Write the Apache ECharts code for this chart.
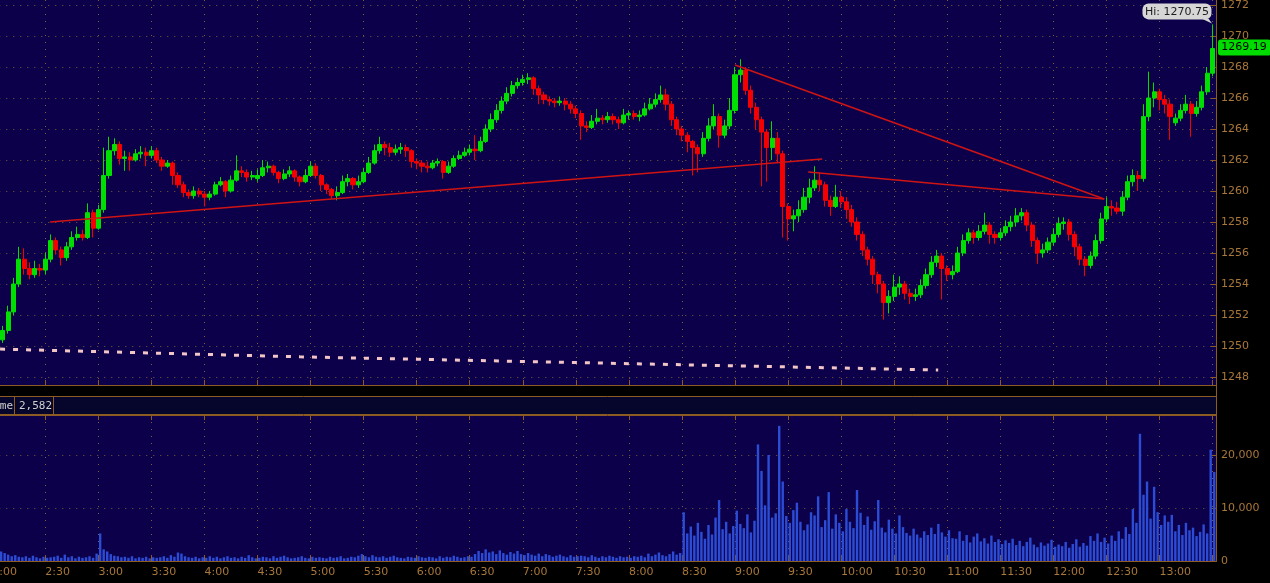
<!DOCTYPE html>
<html><head><meta charset="utf-8">
<script src="https://cdn.jsdelivr.net/npm/echarts@6/dist/echarts.min.js"></script>
<style>html,body{margin:0;padding:0;background:#000;overflow:hidden}#c{width:1270px;height:583px}</style>
</head><body><div id="c"></div>
<script>
// ---- DATA (minutes since midnight on x) ----
const barStartMin = 126;   // first 3-minute bar
const barStepMin = 3;
// [open, close, low, high]
const ohlc = [
[1250.4,1251.0,1250.2,1251.3],[1251.0,1252.2,1250.8,1252.6],[1252.2,1254.0,1252.0,1254.4],[1254.0,1255.6,1253.8,1256.4],
[1255.6,1255.0,1254.6,1256.3],[1255.0,1254.6,1254.3,1255.4],[1254.6,1255.0,1254.4,1255.5],[1255.0,1254.9,1254.5,1255.3],
[1254.9,1255.6,1254.6,1256.0],[1255.6,1256.8,1255.4,1257.2],[1256.8,1256.2,1255.9,1257.0],[1256.2,1255.7,1255.2,1256.4],
[1255.7,1256.4,1255.5,1256.7],[1256.4,1257.0,1256.2,1257.4],[1257.0,1257.2,1256.8,1257.7],[1257.2,1257.0,1256.8,1257.5],
[1257.0,1258.6,1256.9,1259.2],[1258.6,1257.6,1257.0,1258.8],[1257.6,1258.8,1257.5,1259.1],[1258.8,1261.0,1258.6,1262.8],
[1261.0,1262.6,1260.8,1263.5],[1262.6,1263.0,1262.3,1263.4],[1263.0,1262.1,1261.7,1263.2],[1262.1,1262.2,1261.3,1262.6],
[1262.2,1262.0,1261.3,1262.5],[1262.0,1262.4,1261.9,1262.7],[1262.4,1262.5,1262.1,1262.9],[1262.5,1262.3,1261.6,1262.8],
[1262.3,1262.6,1262.1,1262.9],[1262.6,1262.0,1261.8,1262.8],[1262.0,1261.6,1261.3,1262.2],[1261.6,1261.8,1261.5,1262.0],
[1261.8,1261.0,1260.4,1261.9],[1261.0,1260.4,1260.2,1261.2],[1260.4,1259.9,1259.6,1260.6],[1259.9,1259.7,1259.5,1260.1],
[1259.7,1260.0,1259.5,1260.3],[1260.0,1259.8,1259.6,1260.2],[1259.8,1259.6,1259.0,1260.0],[1259.6,1259.8,1259.4,1260.0],
[1259.8,1260.4,1259.7,1260.6],[1260.4,1260.6,1260.3,1260.9],[1260.6,1260.0,1259.6,1260.7],[1260.0,1260.7,1259.9,1261.0],
[1260.7,1261.3,1260.6,1262.3],[1261.3,1261.2,1260.9,1261.6],[1261.2,1260.9,1260.6,1261.4],[1260.9,1261.0,1260.7,1261.3],
[1260.8,1261.0,1260.6,1261.4],[1261.0,1261.5,1260.9,1262.0],[1261.5,1261.6,1261.2,1261.9],[1261.6,1261.2,1261.0,1261.7],
[1261.2,1260.8,1260.5,1261.3],[1260.8,1261.1,1260.7,1261.4],[1261.1,1261.3,1260.9,1261.6],[1261.3,1260.9,1260.6,1261.4],
[1260.9,1260.6,1260.3,1261.0],[1260.6,1261.0,1260.5,1261.4],[1261.0,1261.6,1260.9,1261.9],[1261.6,1261.0,1260.8,1261.8],
[1261.0,1260.4,1260.0,1261.1],[1260.4,1260.1,1259.8,1260.5],[1260.1,1259.7,1259.5,1260.2],[1259.7,1259.9,1259.4,1260.3],
[1259.9,1260.6,1259.8,1261.0],[1260.6,1260.8,1260.3,1261.1],[1260.8,1260.4,1260.1,1260.9],[1260.4,1260.6,1260.2,1261.0],
[1260.6,1261.2,1260.5,1261.5],[1261.2,1261.8,1261.1,1262.2],[1261.8,1262.6,1261.7,1263.0],[1262.6,1263.0,1262.4,1263.5],
[1263.0,1262.8,1262.3,1263.2],[1262.8,1262.5,1262.2,1263.1],[1262.5,1262.7,1262.3,1263.0],[1262.7,1262.8,1262.4,1263.1],
[1262.8,1262.6,1262.2,1263.0],[1262.6,1261.9,1261.5,1262.7],[1261.9,1261.8,1261.4,1262.1],[1261.8,1261.6,1261.2,1262.0],
[1261.6,1261.5,1261.2,1261.9],[1261.5,1261.8,1261.4,1262.0],[1261.8,1261.9,1261.6,1262.1],[1261.9,1261.2,1260.8,1262.0],
[1261.2,1261.6,1261.1,1261.9],[1261.6,1262.1,1261.5,1262.3],[1262.1,1262.3,1262.0,1262.6],[1262.3,1262.5,1262.2,1262.8],
[1262.5,1262.7,1262.3,1263.0],[1262.7,1262.6,1262.0,1263.6],[1262.6,1263.2,1262.5,1263.5],[1263.2,1264.0,1263.1,1264.3],
[1264.0,1264.6,1263.8,1265.0],[1264.6,1265.2,1264.4,1265.6],[1265.2,1265.8,1265.0,1266.1],[1265.8,1266.3,1265.6,1266.7],
[1266.3,1266.8,1266.1,1267.1],[1266.8,1267.0,1266.6,1267.3],[1267.0,1267.2,1266.8,1267.5],[1267.2,1267.3,1266.9,1267.6],
[1267.3,1266.6,1266.2,1267.4],[1266.6,1266.2,1265.6,1266.8],[1266.2,1265.9,1265.6,1266.4],[1265.9,1265.8,1265.5,1266.1],
[1265.8,1265.7,1265.4,1266.0],[1265.7,1265.8,1265.5,1266.1],[1265.8,1265.6,1265.2,1266.0],[1265.6,1265.3,1265.0,1265.8],
[1265.3,1265.0,1264.7,1265.5],[1265.0,1264.2,1263.3,1265.2],[1264.2,1264.1,1263.8,1264.5],[1264.1,1264.5,1264.0,1264.9],
[1264.5,1264.7,1264.3,1265.3],[1264.7,1264.6,1264.3,1264.9],[1264.6,1264.8,1264.4,1265.1],[1264.8,1264.6,1264.3,1265.0],
[1264.6,1264.4,1264.0,1264.8],[1264.4,1264.9,1264.3,1265.3],[1264.9,1265.0,1264.6,1265.2],[1265.0,1264.8,1264.6,1265.2],
[1264.8,1264.9,1264.5,1265.2],[1264.9,1265.3,1264.8,1265.7],[1265.3,1265.6,1265.2,1266.0],[1265.6,1265.9,1265.4,1266.3],
[1265.9,1266.2,1265.7,1266.8],[1266.2,1265.6,1265.2,1266.6],[1265.6,1264.6,1264.2,1265.8],[1264.6,1264.0,1263.6,1264.8],
[1264.0,1263.6,1263.2,1264.2],[1263.6,1263.2,1262.5,1263.8],[1263.2,1262.8,1261.0,1263.3],[1262.8,1262.4,1261.2,1263.0],
[1262.4,1263.4,1262.2,1263.8],[1263.4,1264.2,1263.2,1264.7],[1264.2,1264.8,1264.0,1265.6],[1264.8,1263.6,1262.8,1265.0],
[1263.6,1264.2,1263.4,1264.6],[1264.2,1265.2,1264.0,1266.0],[1265.2,1267.5,1265.0,1268.0],[1267.5,1267.8,1267.0,1268.5],
[1267.8,1266.5,1266.2,1268.0],[1266.5,1265.4,1265.0,1266.8],[1265.4,1264.6,1264.0,1265.7],[1264.6,1263.8,1260.3,1264.8],
[1263.8,1262.8,1260.6,1264.0],[1262.8,1263.4,1262.0,1264.5],[1263.4,1262.4,1261.8,1263.8],[1262.4,1259.0,1257.0,1262.6],
[1259.0,1258.2,1256.8,1259.2],[1258.2,1258.4,1257.4,1258.8],[1258.4,1258.8,1258.0,1259.4],[1258.8,1259.6,1258.6,1260.2],
[1259.6,1260.2,1259.2,1260.8],[1260.2,1260.7,1260.0,1261.6],[1260.7,1260.4,1260.0,1261.2],[1260.4,1259.4,1259.0,1260.6],
[1259.4,1259.0,1258.4,1259.7],[1259.0,1259.6,1258.9,1260.4],[1259.6,1259.3,1258.9,1260.0],[1259.3,1258.8,1258.2,1259.6],
[1258.8,1258.0,1257.7,1259.1],[1258.0,1257.2,1256.8,1258.3],[1257.2,1256.2,1255.8,1257.4],[1256.2,1255.6,1255.2,1256.4],
[1255.6,1254.6,1254.0,1255.8],[1254.6,1254.0,1253.4,1254.8],[1254.0,1252.8,1251.7,1254.2],[1252.8,1253.2,1252.1,1253.6],
[1253.2,1253.8,1252.9,1254.6],[1253.8,1254.0,1253.3,1254.5],[1254.0,1253.4,1253.0,1254.2],[1253.4,1253.2,1252.7,1253.7],
[1253.2,1253.3,1252.9,1253.7],[1253.3,1253.9,1253.1,1254.3],[1253.9,1254.6,1253.7,1255.0],[1254.6,1255.4,1254.4,1255.8],
[1255.4,1255.8,1255.1,1256.2],[1255.8,1255.0,1253.0,1256.0],[1255.0,1254.6,1254.2,1255.2],[1254.6,1254.8,1254.3,1255.2],
[1254.8,1256.0,1254.7,1256.4],[1256.0,1256.8,1255.8,1257.2],[1256.8,1257.3,1256.6,1257.6],[1257.3,1257.0,1256.6,1257.5],
[1257.0,1257.4,1256.8,1257.8],[1257.4,1257.8,1257.2,1258.6],[1257.8,1257.2,1256.6,1258.0],[1257.2,1257.0,1256.6,1257.4],
[1257.0,1257.3,1256.8,1257.6],[1257.3,1257.7,1257.1,1258.1],[1257.7,1258.0,1257.4,1258.4],[1258.0,1258.4,1257.7,1258.9],
[1258.4,1258.6,1258.1,1258.9],[1258.6,1257.8,1257.4,1258.8],[1257.8,1256.8,1256.4,1258.0],[1256.8,1256.0,1255.3,1257.0],
[1256.0,1256.2,1255.7,1256.6],[1256.2,1256.7,1256.0,1257.0],[1256.7,1257.2,1256.5,1257.6],[1257.2,1257.9,1257.0,1258.3],
[1257.9,1258.0,1257.5,1258.3],[1258.0,1257.2,1256.8,1258.2],[1257.2,1256.4,1255.8,1257.4],[1256.4,1255.6,1255.2,1256.6],
[1255.6,1255.2,1254.5,1255.8],[1255.2,1255.8,1255.0,1256.1],[1255.8,1256.8,1255.6,1257.2],[1256.8,1258.2,1256.6,1258.6],
[1258.2,1259.0,1258.0,1259.6],[1259.0,1258.9,1258.4,1259.4],[1258.9,1258.7,1258.5,1259.3],[1258.7,1259.6,1258.4,1260.0],
[1259.6,1260.6,1259.4,1261.0],[1260.6,1261.0,1260.3,1261.4],[1261.0,1260.8,1260.0,1261.3],[1260.8,1264.8,1260.6,1265.6],
[1264.8,1266.0,1264.5,1267.7],[1266.0,1266.4,1265.4,1267.0],[1266.4,1265.9,1265.2,1266.6],[1265.9,1265.6,1265.0,1266.2],
[1265.6,1264.8,1263.3,1265.9],[1264.4,1264.7,1264.2,1265.0],[1264.7,1265.2,1264.5,1265.6],[1265.2,1265.6,1265.0,1266.2],
[1265.6,1265.0,1263.5,1265.8],[1265.0,1265.4,1264.8,1265.8],[1265.4,1266.4,1265.2,1266.8],[1266.4,1267.6,1266.2,1268.0],
[1267.6,1269.19,1267.4,1270.75]
];
const volStartMin = 125;   // 2-minute volume bins
const volStepMin = 2;
const volumes = [
1800,1500,1200,900,1100,800,700,900,600,1000,700,500,800,600,700,
800,1000,600,1200,700,900,500,800,600,700,900,600,1400,5200,2200,
1800,1300,1000,900,700,800,600,900,500,700,600,800,500,700,600,
700,900,600,1100,800,1600,1400,900,700,600,800,500,700,600,900,
600,800,500,700,900,600,700,500,800,600,1100,700,500,600,800,
700,500,900,600,800,1000,700,500,600,700,900,600,500,800,600,
700,600,500,800,600,700,900,500,600,800,700,1000,1300,900,700,
1100,800,700,900,600,800,1000,700,600,500,800,700,600,900,700,
600,800,700,500,900,600,800,700,1000,800,600,700,900,800,1300,
1900,1500,2200,1600,1800,1300,2000,1500,1200,1700,1400,1900,1300,1100,1500,
1200,1000,1400,900,1300,1100,800,1000,1200,900,700,1100,800,900,1000,
900,700,1100,800,600,900,700,1000,800,600,900,700,800,600,900,
800,1000,700,1400,900,1200,1600,1100,900,1300,1800,1200,1500,9200,5200,
6500,4800,7200,5500,4200,6800,5000,8200,11500,6000,7400,5200,6600,9500,7000,
6200,8800,5400,7600,22000,17000,10500,20000,8200,9000,25500,15000,8500,7200,9600,
11000,7400,5800,6900,9200,8600,12200,6400,7700,13000,6100,8800,7200,5600,9800,
7400,6200,13400,9100,6800,8400,5900,7500,11500,6300,5400,7800,6100,5200,8600,
6400,5300,4800,6100,5000,4400,5600,4900,6300,5100,7000,5400,4600,5800,4300,
4200,5600,3800,4900,3500,4600,5200,3700,4300,3300,4800,3600,4100,3200,3900,
3400,4200,3000,3800,2800,3600,4400,3100,2600,3500,2900,3300,4000,2700,3100,
2800,3600,2500,3200,4100,2700,3400,2900,4700,3800,5200,3600,4400,3300,4800,
3800,5600,4200,6400,5100,9800,7200,24000,12500,15000,8000,14000,9200,6800,8600,
7400,8700,5600,6800,4900,7200,5800,6300,4700,5500,6900,5200,21000,16800
];
// trend lines: [[minute, price], [minute, price]]
const trendLines = [
  [[152.7,1258.0],[589.3,1262.06]],
  [[540.0,1268.13],[748.8,1259.48]],
  [[581.4,1261.23],[748.8,1259.48]]
];
const avgLine = [[124.4,1249.8],[294,1249.3],[463.7,1248.9],[654.9,1248.45]];
const hiValue = 1270.75;
const lastPrice = 1269.19;
const headerVolume = '2,582';
const timeMin = 120, timeMax = 812, timeInterval = 30;
const priceMin = 1248, priceMax = 1272, priceInterval = 2;
const volMax = 27547, volInterval = 10000;

// ---- STYLE ----
const NAVY = '#0b0049', AXIS = '#8c5c22', LBL = '#a9773a', DOT = '#7c6038';
const UP = '#00e000', DOWN = '#f40000';
const font = 'DejaVu Sans';
const dotted = {show:true, lineStyle:{color:DOT, type:[1,6], width:1}};
const gl = {left:-7.72, width:1223.72, containLabel:false, outerBoundsMode:'none'};
function fmtTime(v){ if (v >= 810 || v % 30) return ''; const h=Math.floor(v/60), m=v%60; return h+':'+(m<10?'0':'')+m; }

const chart = echarts.init(document.getElementById('c'), null, {renderer:'canvas'});
chart.setOption({
  animation:false,
  backgroundColor:'#000',
  grid:[
    Object.assign({top:0, height:385, show:true, backgroundColor:NAVY, borderWidth:0}, gl),
    Object.assign({top:5, height:372}, gl),
    Object.assign({top:415, height:146, show:true, backgroundColor:NAVY, borderWidth:0}, gl)
  ],
  xAxis:[
    {gridIndex:0, type:'value', min:timeMin, max:timeMax, interval:timeInterval, position:'bottom',
     axisLine:{show:true, lineStyle:{color:AXIS}}, axisTick:{show:true, inside:true, length:5, lineStyle:{color:AXIS}},
     axisLabel:{show:false}, splitLine:dotted},
    {gridIndex:1, type:'value', min:timeMin, max:timeMax, show:false},
    {gridIndex:2, type:'value', min:timeMin, max:timeMax, interval:timeInterval, position:'bottom',
     axisLine:{show:true, lineStyle:{color:AXIS}}, axisTick:{show:true, inside:true, length:6, lineStyle:{color:AXIS}},
     axisLabel:{show:true, color:LBL, fontFamily:font, fontSize:11, align:'left', margin:6, formatter:fmtTime, showMaxLabel:false},
     splitLine:dotted},
    {gridIndex:2, type:'value', min:timeMin, max:timeMax, interval:timeInterval, position:'top',
     axisLine:{show:true, lineStyle:{color:AXIS}}, axisTick:{show:true, inside:true, length:5, lineStyle:{color:AXIS}},
     axisLabel:{show:false}, splitLine:{show:false}}
  ],
  yAxis:[
    {gridIndex:0, type:'value', min:0, max:1, show:false},
    {gridIndex:1, type:'value', position:'right', min:priceMin, max:priceMax, interval:priceInterval, scale:true,
     axisLine:{show:false}, axisTick:{show:true, inside:true, length:5, lineStyle:{color:AXIS}},
     axisLabel:{color:LBL, fontFamily:font, fontSize:11, margin:5, formatter:v=>String(v)}, splitLine:dotted},
    {gridIndex:2, type:'value', position:'right', min:0, max:volMax, interval:volInterval,
     axisLine:{show:false}, axisTick:{show:true, inside:true, length:5, lineStyle:{color:AXIS}},
     axisLabel:{color:LBL, fontFamily:font, fontSize:11, margin:5, showMaxLabel:false,
       formatter:v=>v.toLocaleString('en-US')}, splitLine:dotted}
  ],
  series:[
    {type:'candlestick', xAxisIndex:1, yAxisIndex:1, barWidth:4.6,
     encode:{x:0, y:[1,2,3,4]},
     data: ohlc.map((r,i)=>[barStartMin+i*barStepMin, r[0], r[1], r[2], r[3]]),
     itemStyle:{color:UP, color0:DOWN, borderColor:UP, borderColor0:DOWN, borderWidth:1}, silent:true},
    ...trendLines.map(d=>({type:'line', xAxisIndex:1, yAxisIndex:1, data:d, symbol:'none', silent:true,
      lineStyle:{color:'#d01414', width:1.5}})),
    {type:'line', xAxisIndex:1, yAxisIndex:1, data:avgLine, symbol:'none', silent:true,
     lineStyle:{color:'#f2c6c6', width:3, type:[5,8], cap:'butt'}},
    {type:'bar', xAxisIndex:2, yAxisIndex:2, barWidth:2.4, silent:true,
     data: volumes.map((v,k)=>[volStartMin+k*volStepMin, v]),
     itemStyle:{color:'#2c4cd6'}}
  ]
});

// annotations anchored to the data
const lastT = barStartMin + (ohlc.length-1)*barStepMin;
const hiPx = chart.convertToPixel({xAxisIndex:1, yAxisIndex:1}, [lastT, hiValue]);
const lpPx = chart.convertToPixel({xAxisIndex:1, yAxisIndex:1}, [lastT, lastPrice]);
const bw = 69, bh = 16;
const bx = hiPx[0] - bw - 1, by = hiPx[1] - bh - 5;
chart.setOption({graphic:[
  {type:'rect', z:1, shape:{x:-1, y:396.5, width:1217.5, height:18}, style:{fill:'#06052b', stroke:AXIS, lineWidth:1}},
  {type:'line', z:5, shape:{x1:14.5, y1:396, x2:14.5, y2:415}, style:{stroke:AXIS, lineWidth:1}},
  {type:'line', z:5, shape:{x1:53.5, y1:396, x2:53.5, y2:415}, style:{stroke:AXIS, lineWidth:1}},
  {type:'text', z:5, x:13, y:406, style:{text:'Volume', fill:'#cfcfcf', font:'11px "DejaVu Sans Mono"', align:'right', verticalAlign:'middle'}},
  {type:'text', z:5, x:19, y:406, style:{text:headerVolume, fill:'#cfcfcf', font:'11px "DejaVu Sans Mono"', align:'left', verticalAlign:'middle'}},
  {type:'line', z:5, shape:{x1:1216.5, y1:0, x2:1216.5, y2:562}, style:{stroke:AXIS, lineWidth:1}},
  {type:'line', z:5, shape:{x1:0, y1:385.5, x2:1216, y2:385.5}, style:{stroke:AXIS, lineWidth:1}},
  {type:'polygon', z:6, shape:{points:[[bx+bw-10,by+bh-1],[bx+bw-3,by+bh-1],[hiPx[0]-0.5,hiPx[1]-1]]}, style:{fill:'#d6d6d6'}},
  {type:'rect', z:6, shape:{x:bx, y:by, width:bw, height:bh, r:6}, style:{fill:'#d6d6d6'}},
  {type:'text', z:7, x:bx+bw/2, y:by+bh/2+0.5, style:{text:'Hi: '+hiValue.toFixed(2), fill:'#1c1c1c', font:'11px "DejaVu Sans"', align:'center', verticalAlign:'middle'}},
  {type:'rect', z:6, shape:{x:1218, y:lpPx[1]-9, width:53, height:16, r:3}, style:{fill:'#00dc00'}},
  {type:'text', z:7, x:1244, y:lpPx[1]-1, style:{text:lastPrice.toFixed(2), fill:'#000', font:'11px "DejaVu Sans"', align:'center', verticalAlign:'middle'}}
]});
</script>
</body></html>
